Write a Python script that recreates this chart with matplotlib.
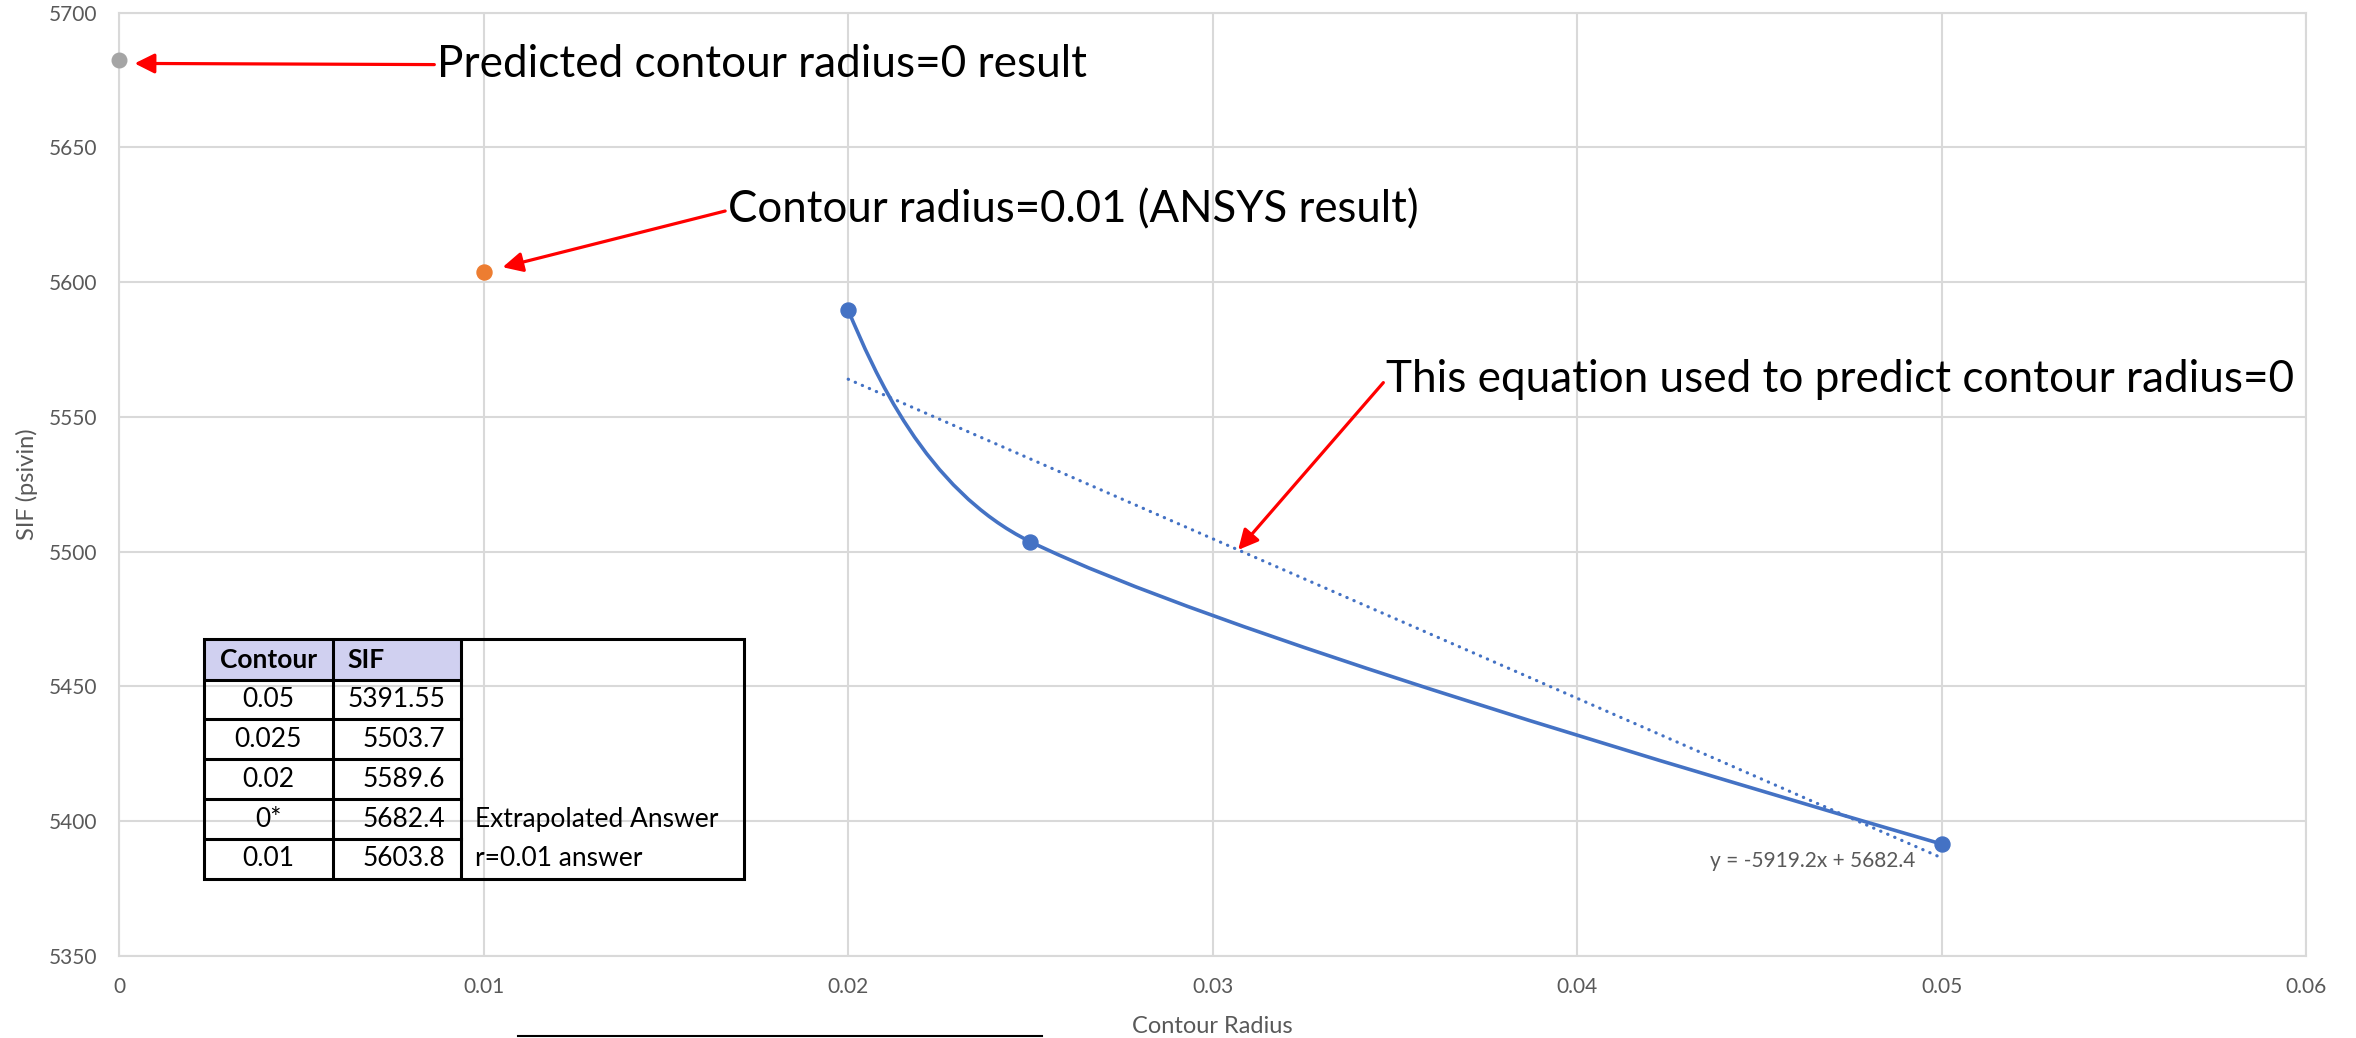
import numpy as np
import matplotlib
matplotlib.use('Agg')
import matplotlib.pyplot as plt
from matplotlib.path import Path
from matplotlib.patches import PathPatch, Rectangle
from matplotlib.lines import Line2D

plt.rcParams['font.family'] = ['Lato', 'DejaVu Sans']

# ===================== data =====================
radius = [0.05, 0.025, 0.02]          # blue series (contour radius)
sif = [5391.55, 5503.7, 5589.6]       # SIF values
ansys_r, ansys_sif = 0.01, 5603.8     # orange point
pred_r, pred_sif = 0.0, 5682.4        # grey point (extrapolated)

x_ticks = [0, 0.01, 0.02, 0.03, 0.04, 0.05, 0.06]
y_ticks = [5350, 5400, 5450, 5500, 5550, 5600, 5650, 5700]

table_contour = ['0.05', '0.025', '0.02', '0*', '0.01']
table_sif = [5391.55, 5503.7, 5589.6, 5682.4, 5603.8]
table_note = ['', '', '', 'Extrapolated Answer', 'r=0.01 answer']

BLUE = '#4472C4'
ORANGE = '#ED7D31'
GREY = '#A5A5A5'
GRID = '#D9D9D9'
TXT = '#595959'


def smooth_path(ax, xs, ys, cap=0.4):
    """Excel-like smoothed line: bezier segments built in screen space."""
    order = np.argsort(xs)
    D = ax.transData.transform(np.column_stack([np.array(xs)[order],
                                                np.array(ys)[order]]))
    n = len(D)
    T = [None] * n
    for i in range(1, n - 1):
        T[i] = (D[i + 1] - D[i - 1]) / 6
    verts = [D[0]]
    codes = [Path.MOVETO]
    for i in range(n - 1):
        L = np.hypot(*(D[i + 1] - D[i]))
        c1 = c2 = None
        if T[i] is not None:
            c1 = D[i] + T[i] * min(1, cap * L / np.hypot(*T[i]))
        if T[i + 1] is not None:
            c2 = D[i + 1] - T[i + 1] * min(1, cap * L / np.hypot(*T[i + 1]))
        if c1 is None and c2 is None:
            c1 = D[i] + (D[i + 1] - D[i]) / 3
            c2 = D[i + 1] - (D[i + 1] - D[i]) / 3
        elif c1 is None:
            c1 = D[i] + (c2 - D[i]) / 3
        elif c2 is None:
            c2 = D[i + 1] + (c1 - D[i + 1]) / 3
        verts += [c1, c2, D[i + 1]]
        codes += [Path.CURVE4] * 3
    verts = ax.transData.inverted().transform(np.array(verts))
    return Path(verts, codes)


# ===================== figure =====================
fig = plt.figure(figsize=(23.56, 10.38), dpi=100)
ax = fig.add_axes([0.05064, 0.0790, 0.92814, 0.90877])
ax.set_xlim(x_ticks[0], x_ticks[-1])
ax.set_ylim(y_ticks[0], y_ticks[-1])
ax.set_xticks(x_ticks)
ax.set_yticks(y_ticks)
ax.set_xticklabels([f'{v:g}' for v in x_ticks])
ax.set_yticklabels([str(v) for v in y_ticks])
ax.tick_params(length=0, labelsize=15, labelcolor=TXT)
ax.tick_params(axis='x', pad=15)
ax.tick_params(axis='y', pad=16)
ax.grid(True, color=GRID, lw=1.5)
ax.set_axisbelow(True)
for s in ax.spines.values():
    s.set_color(GRID)
    s.set_linewidth(1.5)

ax.set_xlabel('Contour Radius', fontsize=17, color=TXT, va='top')
ax.xaxis.set_label_coords(0.5, -0.064)
ax.set_ylabel('SIF (psivin)', fontsize=17, color=TXT)
ax.yaxis.set_label_coords(-0.037, 0.5)

# smoothed series line
ax.add_patch(PathPatch(smooth_path(ax, radius, sif), fill=False, ec=BLUE,
                       lw=2.6, capstyle='round', zorder=3))

# linear trendline
fit = np.polyfit(radius, sif, 1)
tx = np.array([min(radius), max(radius)])
ax.plot(tx, np.polyval(fit, tx), color=BLUE, lw=2.3, ls=(0, (0.1, 2.3)),
        dash_capstyle='round', zorder=4)
ax.text(0.04647, 5383.0, f'y = {fit[0]:.1f}x + {fit[1]:.1f}', fontsize=15,
        color=TXT, ha='center', va='baseline')

# markers
ax.plot(radius, sif, 'o', color=BLUE, ms=10.8, zorder=5)
ax.plot([ansys_r], [ansys_sif], 'o', color=ORANGE, ms=10.8, zorder=5, clip_on=False)
ax.plot([pred_r], [pred_sif], 'o', color=GREY, ms=10.5, zorder=5, clip_on=False)

# annotations
def arrow(shrink):
    return dict(arrowstyle='-|>,head_length=0.6,head_width=0.3', color='red',
                lw=2.3, shrinkA=0, shrinkB=shrink, relpos=(0, 0.5),
                mutation_scale=20)

ax.annotate('Predicted contour radius=0 result', xy=(pred_r, pred_sif - 1.2),
            xytext=(0.00872, 5676.1), ha='left', va='baseline', fontsize=31.8,
            arrowprops=arrow(11), annotation_clip=False)
ax.annotate('Contour radius=0.01 (ANSYS result)', xy=(ansys_r, ansys_sif),
            xytext=(0.0167, 5622.0), ha='left', va='baseline', fontsize=31.5,
            arrowprops=arrow(14), annotation_clip=False)
ax.annotate('This equation used to predict contour radius=0',
            xy=(0.0307, np.polyval(fit, 0.0307)),
            xytext=(0.03476, 5559.3), ha='left', va='baseline', fontsize=31.8,
            arrowprops=arrow(0), annotation_clip=False)

# ===================== table =====================
tax = fig.add_axes([0.0865, 0.15318, 0.2295, 0.23121])
tax.set_xlim(0, 540.7)
tax.set_ylim(240, 0)
tax.axis('off')
cols = [0, 129.2, 257.2, 540.7]
rows = [0, 41, 80, 120, 160, 200, 240]
lw_t = 2.2
fs_t = 19
tax.add_patch(Rectangle((cols[0], rows[0]), cols[2] - cols[0], rows[1] - rows[0],
                        fc='#D0D0F0', ec='none'))
tax.add_patch(Rectangle((cols[0], rows[0]), cols[3] - cols[0], rows[-1] - rows[0],
                        fill=False, ec='black', lw=lw_t, clip_on=False))
for c in cols[1:3]:
    tax.add_line(Line2D([c, c], [rows[0], rows[-1]], color='black', lw=lw_t))
for r in rows[1:-1]:
    tax.add_line(Line2D([cols[0], cols[2]], [r, r], color='black', lw=lw_t))

def row_mid(i):
    return (rows[i] + rows[i + 1]) / 2

tax.text((cols[0] + cols[1]) / 2, row_mid(0), 'Contour', fontsize=fs_t,
         fontweight='bold', ha='center', va='center')
tax.text(cols[1] + 14, row_mid(0), 'SIF', fontsize=fs_t, fontweight='bold',
         ha='left', va='center')
for i, (c, v, n) in enumerate(zip(table_contour, table_sif, table_note)):
    y = row_mid(i + 1)
    tax.text((cols[0] + cols[1]) / 2, y, c, fontsize=fs_t, ha='center', va='center')
    tax.text(cols[2] - 16, y, f'{v:g}', fontsize=fs_t, ha='right', va='center')
    if n:
        tax.text(cols[2] + 14, y, n, fontsize=fs_t, ha='left', va='center')

# stray line under the chart
fig.add_artist(Line2D([518 / 2356, 1042 / 2356], [1 - 1036 / 1038] * 2,
                      color='black', lw=1.5))

fig.savefig('out.png', dpi=100)
